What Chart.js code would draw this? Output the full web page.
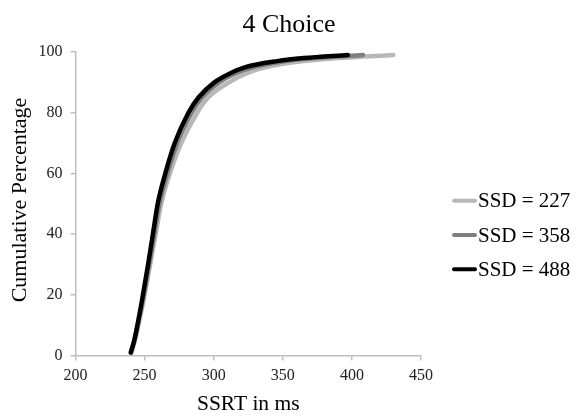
<!DOCTYPE html>
<html>
<head>
<meta charset="utf-8">
<script src="https://cdn.jsdelivr.net/npm/chart.js@4/dist/chart.umd.min.js"></script>
<style>
  html, body { margin: 0; padding: 0; background: #fff; }
  #wrap { width: 578px; height: 420px; }
</style>
</head>
<body>
<div id="wrap"><canvas id="c" width="578" height="420"></canvas></div>
<script>
// ---- data ----
const chartTitle = "4 Choice";
const xTitle = "SSRT in ms";
const yTitle = "Cumulative Percentage";
const seriesLabels = ["SSD = 227", "SSD = 358", "SSD = 488"];
const percentiles = [1, 5, 10, 20, 30, 40, 50, 60, 70, 80, 85, 90, 93, 95, 97, 98, 99];
const ssrt227 = [240.5, 243, 245.5, 250, 254, 258, 262, 268.3, 276.5, 288, 296, 311, 324, 338, 365, 390, 430];
const ssrt358 = [240, 242.6, 245, 249.4, 253.2, 257, 260.7, 266.5, 273.5, 284, 291.5, 304, 316, 329, 352, 373, 408];
const ssrt488 = [240, 242.5, 244.8, 248.8, 252.5, 256, 259.5, 265, 271.8, 281.7, 289, 300.5, 312, 323, 346, 365, 397];
const xTicks = [200, 250, 300, 350, 400, 450];
const yTicks = [0, 20, 40, 60, 80, 100];

const colors = ["#b8b8b8", "#7f7f7f", "#000000"];
const FONT = "'Liberation Serif', 'Times New Roman', serif";

function toPoints(xs) { return xs.map((x, i) => ({ x: x, y: percentiles[i] })); }
const seriesValues = [ssrt227, ssrt358, ssrt488];

const datasets = seriesValues.map((vals, i) => ({
  label: seriesLabels[i],
  data: toPoints(vals),
  showLine: true,
  borderColor: colors[i],
  backgroundColor: colors[i],
  borderWidth: 4.5,
  pointRadius: 0,
  cubicInterpolationMode: 'monotone',
  borderCapStyle: 'round',
  borderJoinStyle: 'round',
  order: 3 - i
}));

const customDecor = {
  id: 'customDecor',
  afterDraw(chart) {
    const ctx = chart.ctx;
    ctx.save();
    // title
    ctx.fillStyle = '#000';
    ctx.font = "26px " + FONT;
    ctx.textAlign = 'center';
    ctx.textBaseline = 'alphabetic';
    ctx.fillText(chartTitle, 289, 32);
    // y axis title
    ctx.save();
    ctx.translate(26, 200);
    ctx.rotate(-Math.PI / 2);
    ctx.font = "22px " + FONT;
    ctx.textAlign = 'center';
    ctx.textBaseline = 'alphabetic';
    ctx.fillText(yTitle, 0, 0);
    ctx.restore();
    // legend
    const rowY = [200.7, 235, 269.3];
    chart.data.datasets.forEach((ds, i) => {
      const y = rowY[i];
      ctx.strokeStyle = ds.borderColor;
      ctx.lineWidth = 4;
      ctx.lineCap = 'round';
      ctx.beginPath();
      ctx.moveTo(454, y);
      ctx.lineTo(475, y);
      ctx.stroke();
      ctx.fillStyle = '#000';
      ctx.font = "21px " + FONT;
      ctx.textAlign = 'left';
      ctx.textBaseline = 'middle';
      ctx.fillText(ds.label, 478, y + 1);
    });
    ctx.restore();
  }
};

new Chart(document.getElementById('c'), {
  type: 'scatter',
  data: { datasets: datasets },
  options: {
    responsive: false,
    animation: false,
    devicePixelRatio: 1,
    layout: { padding: { top: 52, right: 157, bottom: 0, left: 0 } },
    plugins: {
      legend: { display: false },
      title: { display: false },
      tooltip: { enabled: false }
    },
    scales: {
      x: {
        type: 'linear',
        min: 200, max: 450,
        afterBuildTicks(scale) { scale.ticks = xTicks.map(v => ({ value: v })); },
        afterFit(scale) { scale.height = 64.4; },
        grid: { drawOnChartArea: false, drawTicks: true, tickLength: 5, color: '#bfbfbf', lineWidth: 1.5 },
        border: { color: '#bfbfbf', width: 1.5 },
        ticks: { color: '#222', font: { family: FONT, size: 16 }, padding: 6, maxRotation: 0 },
        title: { display: true, text: xTitle, color: '#000', font: { family: FONT, size: 21.5 }, padding: { top: 0, bottom: 3 } }
      },
      y: {
        type: 'linear',
        min: 0, max: 100,
        afterBuildTicks(scale) { scale.ticks = yTicks.map(v => ({ value: v })); },
        afterFit(scale) { scale.width = 75.5; },
        grid: { drawOnChartArea: false, drawTicks: true, tickLength: 5, color: '#bfbfbf', lineWidth: 1.5 },
        border: { color: '#bfbfbf', width: 1.5 },
        ticks: { color: '#222', font: { family: FONT, size: 16 }, padding: 8 },
        title: { display: false }
      }
    }
  },
  plugins: [customDecor]
});
</script>
</body>
</html>
